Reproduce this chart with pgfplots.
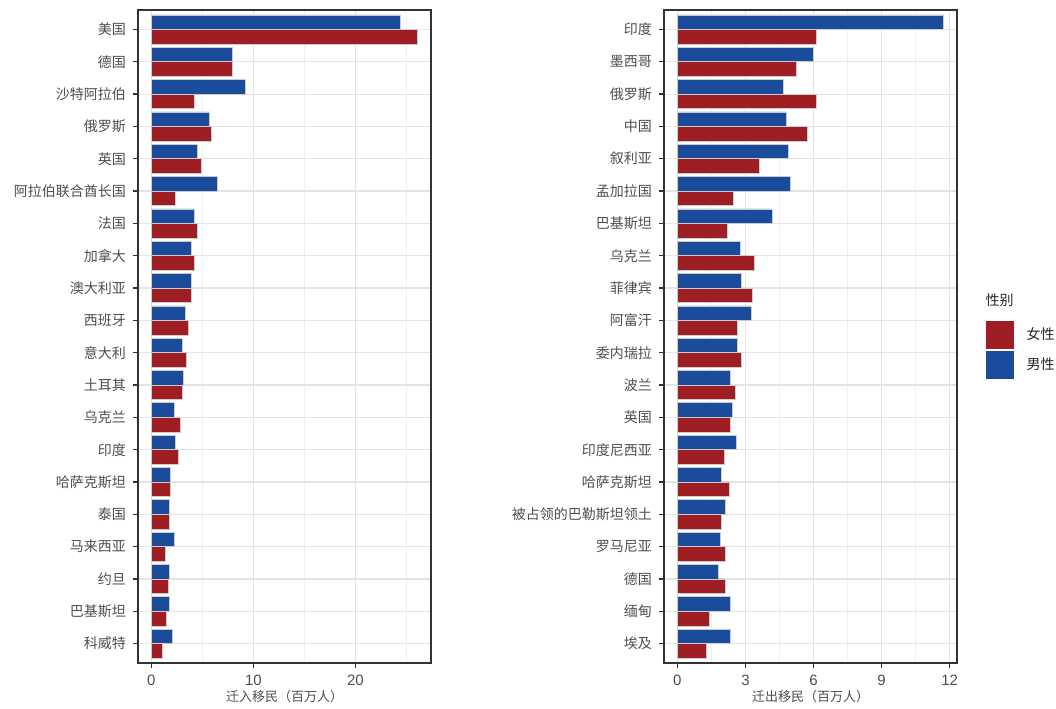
\documentclass[border=0pt]{standalone}
\usepackage{fontspec}
\setmainfont{Liberation Sans}
\newfontfamily\cjk{Noto Sans CJK SC}
\usepackage{pgfplots}
\usepackage{pgfplotstable}
\pgfplotsset{compat=1.18}
\definecolor{mblue}{HTML}{1B4B9B}
\definecolor{fred}{HTML}{9E1E24}
\definecolor{lab}{HTML}{4D4D4D}
\definecolor{gmaj}{HTML}{E4E4E4}
\definecolor{gmin}{HTML}{F0F0F0}
\definecolor{frame}{HTML}{333333}

\pgfplotstableread{
idx male female
0 24.4 26.1
1 7.9 7.9
2 9.2 4.2
3 5.7 5.9
4 4.5 4.9
5 6.45 2.3
6 4.2 4.5
7 3.9 4.2
8 3.9 3.9
9 3.3 3.6
10 3.0 3.45
11 3.1 3.0
12 2.2 2.8
13 2.35 2.65
14 1.9 1.9
15 1.8 1.8
16 2.2 1.4
17 1.8 1.7
18 1.8 1.5
19 2.1 1.1
}\immig

\pgfplotstableread{
idx male female
0 11.73 6.13
1 5.97 5.26
2 4.66 6.10
3 4.79 5.71
4 4.89 3.60
5 4.99 2.46
6 4.16 2.18
7 2.78 3.37
8 2.81 3.31
9 3.24 2.65
10 2.62 2.81
11 2.31 2.55
12 2.42 2.34
13 2.58 2.05
14 1.95 2.28
15 2.12 1.92
16 1.89 2.12
17 1.80 2.09
18 2.34 1.39
19 2.34 1.29
}\emig

\pgfplotsset{
  mystyle/.style={
    scale only axis, width=146.5pt, height=326.5pt,
    xbar, bar width=0.45,
    y dir=reverse, ymin=-0.6, ymax=19.6, ytick={0,...,19},
    tick align=outside, xtick pos=bottom, ytick pos=left,
    major tick length=2.5pt, minor tick length=0pt,
    tick style={color=frame, line width=0.6pt},
    axis line style={color=frame, line width=0.8pt},
    xmajorgrids, ymajorgrids, xminorgrids,
    major grid style={color=gmaj, line width=0.55pt},
    minor grid style={color=gmin, line width=0.3pt},
    ticklabel style={color=lab},
    xticklabel style={font=\fontsize{7.5}{8}\selectfont},
    yticklabel style={font=\cjk\fontsize{7}{8}\selectfont},
    xlabel style={font=\cjk\fontsize{6.5}{8}\selectfont, color=lab,
      at={(axis description cs:0.5,0)}, anchor=center, yshift=-17pt},
    /pgf/number format/assume math mode=true,
    every axis plot/.append style={draw=gray!40, line width=0.3pt},
    clip=false,
  }
}

\begin{document}
\begin{tikzpicture}
\path[use as bounding box] (0,0) rectangle (528pt,354pt);

\begin{axis}[mystyle,
  at={(69pt,22.5pt)}, anchor=south west,
  xmin=-1.31, xmax=27.41,
  xtick={0,10,20}, minor xtick={5,15,25},
  xlabel={迁入移民（百万人）},
  yticklabels={美国,德国,沙特阿拉伯,俄罗斯,英国,阿拉伯联合酋长国,法国,加拿大,澳大利亚,西班牙,意大利,土耳其,乌克兰,印度,哈萨克斯坦,泰国,马来西亚,约旦,巴基斯坦,科威特},
]
\addplot[fill=mblue, bar shift=-0.225] table[x=male, y=idx] {\immig};
\addplot[fill=fred, bar shift=0.225] table[x=female, y=idx] {\immig};
\end{axis}

\begin{axis}[mystyle,
  at={(332pt,22.5pt)}, anchor=south west,
  xmin=-0.59, xmax=12.32,
  xtick={0,3,6,9,12}, minor xtick={1.5,4.5,7.5,10.5},
  xlabel={迁出移民（百万人）},
  yticklabels={印度,墨西哥,俄罗斯,中国,叙利亚,孟加拉国,巴基斯坦,乌克兰,菲律宾,阿富汗,委内瑞拉,波兰,英国,印度尼西亚,哈萨克斯坦,被占领的巴勒斯坦领土,罗马尼亚,德国,缅甸,埃及},
  legend style={at={(axis description cs:1.096,0.524)}, anchor=north west,
    draw=none, fill=none, font=\cjk\fontsize{7}{8}\selectfont, text=black!85,
    row sep=1pt, column sep=4.5pt, inner sep=0pt, cells={anchor=west}},
  legend image code/.code={\fill[#1, draw=none] (0pt,-7pt) rectangle (14pt,7pt);},
]
\addplot[fill=fred, bar shift=0.225] table[x=female, y=idx] {\emig};
\addlegendentry{女性}
\addplot[fill=mblue, bar shift=-0.225] table[x=male, y=idx] {\emig};
\addlegendentry{男性}
\node[anchor=west, font=\cjk\fontsize{7}{8}\selectfont, text=black!85, inner sep=0pt] at (axis description cs:1.096,0.556) {性别};
\end{axis}
\end{tikzpicture}
\end{document}
